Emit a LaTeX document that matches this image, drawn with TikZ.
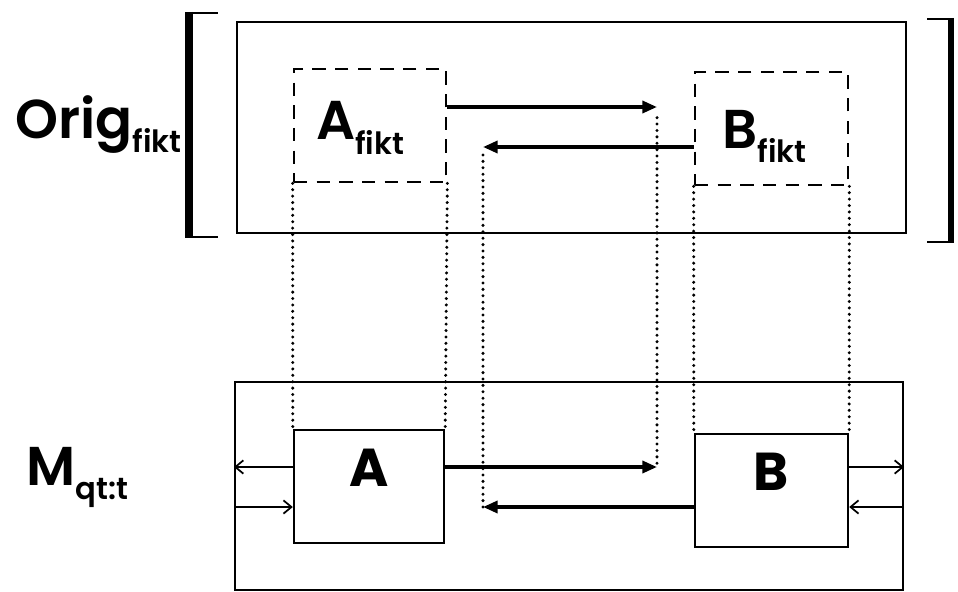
\documentclass[tikz,border=0pt]{standalone}
\usepackage{fontspec}
\setmainfont{Poppins}[BoldFont={Poppins SemiBold}]
\newfontfamily\popbold{Poppins}[UprightFont={* Bold}]
\usetikzlibrary{arrows.meta,fit}
\begin{document}
\begin{tikzpicture}[x=0.75pt,y=-0.75pt,
  frame/.style={draw, line width=1.5pt, inner sep=0pt},
  fict/.style={draw, line width=2pt, dash pattern=on 10pt off 7pt, inner sep=0pt},
  real/.style={draw, line width=1.8pt, inner sep=0pt},
  big/.style={line width=2.6pt, -{Triangle[length=11pt,width=9pt]}},
  small/.style={line width=1.3pt, -{Straight Barb[length=6pt,width=10pt]}},
  dots/.style={line width=2.5pt, dash pattern=on 0pt off 4.8pt, line cap=round},
  bigfont/.style={font=\fontsize{41}{41}\selectfont\bfseries},
  boxfont/.style={font=\fontsize{40}{40}\selectfont\popbold},
  lbl/.style={bigfont, inner sep=0pt, anchor=base west},
]
\newcommand\subtx[2]{{\fontsize{23}{23}\selectfont\raisebox{-#1}{#2}}}
\useasboundingbox (0,0) rectangle (958,592);

% frames
\node[frame, fit={(237,22) (906,233)}] (O) {};
\node[frame, fit={(235,382) (903,590)}] (M) {};

% brackets
\draw[line width=6pt] (189,12) -- (189,238);
\draw[line width=2.2pt] (186,13) -- (218,13) (186,237) -- (218,237);
\draw[line width=4pt] (951,18) -- (951,243);
\draw[line width=2.2pt] (953,19) -- (927,19) (953,242) -- (927,242);

% boxes
\node[fict, fit={(294,69) (446,182)}] (Afk) {};
\node[fict, fit={(695,72) (848,185)}] (Bfk) {};
\node[real, fit={(294,430) (444,543)}, boxfont] (A) {A};
\node[real, fit={(695,434) (848,547)}, boxfont] (B) {B};

% labels
\node[lbl] (lorig) at (15,139) {Orig\subtx{10pt}{fikt}};
\node[lbl] (lafk) at (316,140) {A\subtx{11pt}{fikt}};
\node[lbl] (lbfk) at (722,148) {B\subtx{10.5pt}{fikt}};
\node[lbl] (lm) at (26,485) {M\subtx{11pt}{qt:t}};

% helper coordinates
\coordinate (c1) at (657,107);
\coordinate (c2) at (657,467);
\coordinate (c3) at (483,147);
\coordinate (c4) at (483,507);

% heavy arrows
\draw[big] (Afk.east |- c1) -- (c1);
\draw[big] (Bfk.west |- c3) -- (c3);
\draw[big] (A.east |- c2) -- (c2);
\draw[big] (B.west |- c4) -- (c4);

% dotted links
\draw[dots] ([yshift=-8pt]c1) -- (c2);
\draw[dots] ([yshift=-6pt]c3) -- (c4);
\draw[dots] (Afk.south west) -- (A.north west);
\draw[dots] (Afk.south east) -- (A.north east);
\draw[dots] (Bfk.south west) -- (B.north west);
\draw[dots] (Bfk.south east) -- (B.north east);

% small arrows
\draw[small] (A.west |- c2) -- (M.west |- c2);
\draw[small] (M.west |- c4) -- (A.west |- c4);
\draw[small] (B.east |- c2) -- (M.east |- c2);
\draw[small] (M.east |- c4) -- (B.east |- c4);
\end{tikzpicture}
\end{document}
